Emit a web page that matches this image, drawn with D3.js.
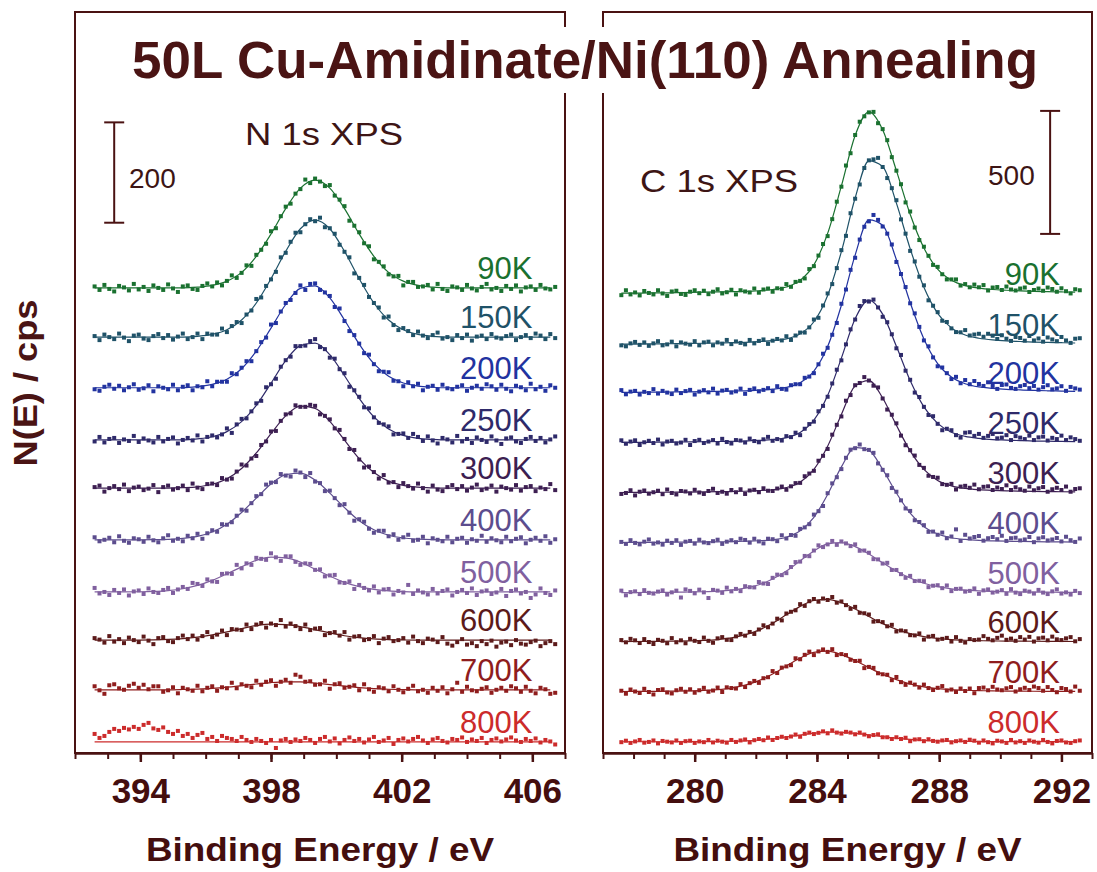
<!DOCTYPE html>
<html lang="en">
<head>
  <meta charset="UTF-8">
  <title>50L Cu-Amidinate/Ni(110) Annealing</title>
  <script src="https://d3js.org/d3.v7.min.js"></script>
  <style>
    body{
      margin:0;
      background:#ffffff;
      font-family:"Liberation Sans", Arial, Helvetica, sans-serif;
    }
  </style>
</head>
<body>
<div id="chart"></div>
<script>
// annealing temperatures and their colours
var temps = ["90K","150K","200K","250K","300K","400K","500K","600K","700K","800K"];
var colours = ["#1a7130","#1f5268","#2233a0","#2e2a6a","#3d1f52","#5c4d8e","#80609f","#5c1a1a","#8f1d1d","#cc2b2b"];

// ---- N 1s panel: counts above each trace's own baseline, 0.15 eV steps from 392.6 eV
var nStart = 392.6, nStep = 0.15, nFitStep = 0.45;
var nOffsets = [927, 829, 728, 624, 528, 425, 321, 225, 126, 22];

var n90 = [3,-4,6,-2,-7,4,1,-5,8,-3,2,-6,5,0,-4,7,-1,-8,3,5,
  -2,-4,4,9,3,11,5,14,25,20,30,45,44,66,76,88,113,119,143,162,
  168,188,197,216,209,218,212,203,205,184,176,163,134,124,111,89,83,57,52,43,
  27,23,24,5,12,12,2,3,6,-3,8,-2,-6,3,1,-4,6,-1,-5,2,
  8,-3,0,-6,4,-2,5,-7,1,3,-4,6,-1,-3,2];
var n150 = [2,-6,5,0,-4,7,-1,-8,3,5,-3,-6,2,6,-2,4,-5,1,7,-4,
  0,7,-4,7,5,5,17,10,22,30,28,45,53,76,79,102,115,130,159,168,
  190,208,209,225,235,231,238,219,217,206,184,170,159,127,118,104,80,68,59,39,
  41,24,14,18,12,4,11,3,-2,4,9,-3,0,-6,4,-2,5,-7,1,3,
  -4,6,-1,-3,2,5,-6,0,4,-2,7,3,-4,6,-2];
var n200 = [-3,-6,2,6,-2,4,-5,1,7,-4,-1,5,-7,3,0,-3,6,-5,2,5,
  -5,3,1,13,3,12,12,12,29,27,40,53,53,73,91,100,126,129,152,169,
  175,189,204,195,207,208,195,190,183,161,158,133,113,105,88,69,66,47,33,32,
  31,14,13,3,11,3,8,-5,2,4,-4,6,-1,-3,2,5,-6,0,4,-2,
  7,3,-4,6,-2,-7,4,1,-5,8,-3,2,-6,5,0];
var n250 = [-3,6,-5,2,4,-6,1,-2,8,-4,3,-1,-5,6,-3,2,5,-7,0,4,
  -1,9,-3,6,9,5,11,23,14,31,42,43,57,73,78,105,111,122,146,159,
  166,187,187,188,197,201,185,181,164,162,141,133,106,99,86,65,63,45,34,31,
  27,11,12,13,4,12,6,-2,7,-1,-7,4,1,-5,8,-3,2,-6,5,0,
  -4,7,-1,-8,3,5,-3,-6,2,6,-2,4,-5,1,7];
var n300 = [2,5,-7,0,4,-2,7,-6,1,3,-4,-1,6,-8,2,5,-3,0,5,-4,
  9,1,-2,8,9,6,20,17,19,33,47,45,59,64,86,93,113,114,134,147,
  149,165,162,162,166,164,147,144,137,119,116,98,78,76,57,41,43,32,19,26,
  11,12,2,10,4,-1,9,0,-7,5,-3,-6,2,6,-2,4,-5,1,7,-4,
  -1,5,-7,3,0,-3,6,-5,2,4,-6,1,-2,8,-4];
var n400 = [5,-3,0,4,-5,7,-2,-6,3,1,-4,6,-1,-5,3,9,-2,2,-3,8,
  3,12,2,13,19,16,31,30,35,48,60,58,73,87,91,110,114,115,131,128,
  126,138,134,125,133,116,113,97,98,83,69,71,54,38,41,36,22,14,18,18,
  7,11,0,5,10,-2,0,6,-7,3,0,-3,6,-5,2,4,-6,1,-2,8,
  -4,3,-1,-5,6,-3,2,5,-7,0,4,-2,7,-6,1];
var n500 = [8,-3,0,-6,4,-2,5,-7,1,3,-4,7,0,-2,4,8,-2,5,10,6,
  18,16,12,25,21,20,36,37,36,54,47,57,54,68,66,64,77,69,62,71,
  71,60,54,57,56,44,45,31,33,34,19,18,21,6,14,8,3,11,-1,5,
  6,-5,2,-1,14,-4,3,-1,-5,6,-3,2,5,-7,0,4,-2,7,-6,1,
  3,-4,-1,6,-8,2,5,-3,0,-12,-5,7,-2,-6,3];
var n600 = [4,1,-5,8,-3,2,-6,5,0,-4,7,-1,-8,4,6,-2,-4,4,9,2,
  9,1,8,16,6,11,19,10,22,21,20,31,22,31,34,25,33,30,40,27,
  33,28,22,31,20,23,24,10,14,16,9,16,1,7,8,0,2,8,-6,3,
  6,-2,0,4,-5,7,-2,-6,3,1,-4,6,-7,-11,-4,2,-9,-6,-12,-2,
  -8,-1,-13,-5,-3,-10,0,-7,-9,-4,-1,-12,-6,-2,-8];
var n700 = [7,-1,-8,9,11,3,0,8,12,4,10,1,7,7,-4,-1,5,-7,4,1,
  -2,8,-3,4,7,-2,5,3,14,3,11,8,5,18,10,16,19,8,16,20,
  14,30,26,16,17,10,11,18,2,11,13,4,6,9,-1,11,1,-4,5,3,
  -3,7,0,-5,2,8,-3,0,-6,4,-2,5,-7,1,14,-4,6,-1,-3,2,
  5,-6,0,4,-2,7,3,-4,6,-2,-7,4,1,-8,-6];
var n800 = [16,8,12,20,26,22,28,25,30,26,34,38,27,24,29,20,16,22,12,16,
  8,14,18,6,10,2,12,8,6,2,10,4,0,6,2,-2,4,-12,3,6,
  0,5,2,8,4,-2,6,10,1,7,-3,4,9,2,6,-1,5,10,0,3,
  8,-4,4,7,1,6,10,3,-2,5,8,2,-1,6,4,9,0,5,2,8,
  -2,4,7,1,5,9,3,0,6,2,7,-1,4,1,-5];

// fitted curves, 0.45 eV steps from 392.6 eV
var nFit90  = [0,0,0,0,0,0,0,1.5,5,13.5,31,63,107.5,158,199,215,199,158,107.5,63,31,13.5,5,1.5,0,0,0,0,0,0,0,0];
var nFit150 = [0,0,0,0,0,0,0,1.6,5.4,14.7,34,68,116.5,171,216,233,216,171,116.5,68,34,14.7,5.4,1.6,0,0,0,0,0,0,0,0];
var nFit200 = [0,0,0,0,0,0,0,2.3,6.8,17,38,73,119,166,198,203,179,135,87,48,23,9.4,3.3,1,0,0,0,0,0,0,0,0];
var nFit250 = [0,0,0,0,0,0,0,2.1,6.4,16.6,36.5,69,113,158,188,193,170,128,83,46,22,9,3.1,1,0,0,0,0,0,0,0,0];
var nFit300 = [0,0,0,0,0,0,0.8,2.6,7.6,18.5,39,70,108.5,144,163.5,159,133,95.5,58.6,31,14,5.4,1.8,0.5,0,0,0,0,0,0,0,0];
var nFit400 = [0,0,0,0,0.2,0.9,2.7,6.8,15.5,31,54.5,83,111,130,133,119,93,64,38,20,9,3.6,1.3,0.3,0,0,0,0,0,0,0,0];
var nFit500 = [0,0,0.1,0.4,1.1,2.8,6.4,13,23,36,50,63,69.5,68,59.5,45.5,31.5,19,10.5,5,2.1,0.8,0.2,0,0,0,0,0,0,0,0,0];
var nFit600 = [0,0,0,0.1,0.5,1.3,2.9,5.9,10.5,16.5,23,28.8,31.8,31,27,21,14.4,8.7,4.8,2.3,1,0.4,0,0,0,0,0,0,0,0,0,0];
var nFit700 = [0,0,0,0,0,0,0.6,1.5,2.9,5.2,8.3,11.5,14.4,15.9,15.6,13.5,10.4,7.2,4.4,2.4,1.1,0.4,0,0,0,0,0,0,0,0,0,0];
var nFit800 = [0,0,0,0,0,0,0,0,0,0,0,0,0,0,0,0,0,0,0,0,0,0,0,0,0,0,0,0,0,0,0,0];

// ---- C 1s panel: 0.15 eV steps from 277.6 eV
var cStart = 277.6, cStep = 0.15, cFitStep = 0.45;
var cOffsets = [1866, 1659, 1463, 1260, 1057, 854, 650, 451, 248, 45];

var c90 = [-5,15,-2,6,-6,12,4,-2,15,2,-8,10,13,0,-4,9,15,3,13,-1,
  9,19,2,7,17,-2,15,10,6,22,5,18,22,9,23,21,40,29,49,53,
  63,101,113,156,203,235,304,375,436,522,572,646,700,722,738,740,694,670,625,556,
  501,446,372,335,270,219,192,155,118,110,80,59,59,59,34,40,27,38,27,36,
  14,26,28,16,30,18,14,22,26,8,16,22,13,26,20,9,23,11,2,19,15];
var c150 = [-2,-6,6,12,0,10,-4,6,15,-2,2,13,-6,10,5,1,15,-2,10,13,
  -2,10,5,20,3,14,8,2,20,6,16,22,4,17,24,18,35,20,38,50,
  50,71,103,110,160,209,247,312,385,443,535,594,652,719,750,754,760,723,678,637,
  588,510,452,382,339,277,242,181,159,133,98,93,67,52,51,60,38,42,45,33,
  45,37,24,39,25,16,32,28,17,36,18,26,13,30,22,15,32,18,8,25,27];
var c200 = [12,-5,6,9,-6,5,0,16,-2,9,2,-4,14,0,8,13,-6,6,12,3,
  18,-2,10,13,2,7,18,-3,13,19,7,13,20,8,28,17,14,32,36,36,
  62,67,81,117,160,184,237,285,363,421,501,550,624,676,698,724,704,677,648,604,
  533,484,431,365,324,269,214,190,145,109,104,81,57,66,40,53,36,49,37,29,
  44,29,17,33,35,21,17,28,33,20,29,14,24,32,15,19,28,9,25,19,14];
var c250 = [11,-3,6,11,-8,3,9,0,14,-6,6,9,-2,2,13,-8,8,13,0,6,
  12,-2,17,4,-2,12,10,2,18,8,3,15,25,9,16,10,28,24,42,32,
  58,77,87,129,151,188,242,298,336,401,462,502,557,577,575,583,551,513,491,442,
  385,358,294,257,205,187,147,114,109,78,52,58,52,32,22,42,44,29,37,21,
  29,37,19,22,32,12,28,22,16,30,12,23,26,10,21,16,30,12,23,16,9];
var c300 = [-4,0,11,-10,5,10,-3,3,9,-5,14,0,-6,8,6,-2,13,2,-4,8,
  17,0,5,-3,12,3,15,-4,10,13,3,19,9,8,18,26,13,27,40,41,
  68,79,90,131,151,179,237,277,311,375,398,438,447,471,457,436,429,384,339,318,
  283,233,194,174,152,114,102,70,65,62,36,33,37,14,26,29,21,34,15,25,
  27,12,22,16,31,12,23,15,9,26,11,19,24,5,15,21,12,26,5,16,19];
var c400 = [4,-4,11,0,-6,5,14,-3,2,-7,9,0,11,-8,5,8,-3,13,2,-1,
  7,13,-4,5,11,3,17,12,1,17,6,-2,17,15,7,31,18,32,29,57,
  63,76,115,129,150,202,242,267,300,346,379,385,400,381,378,366,323,297,275,223,
  208,173,140,130,92,85,72,45,46,33,42,19,26,55,8,33,18,24,28,9,
  19,24,15,29,8,19,21,10,14,24,3,18,23,10,14,20,6,25,11,4,18];
var c500 = [10,-9,4,7,-4,12,1,-2,6,11,-6,3,10,-18,15,9,-1,14,3,-20,
  13,10,1,22,7,17,8,28,24,23,45,39,37,62,75,73,81,106,126,128,
  151,150,173,194,187,198,212,196,210,202,191,198,172,173,164,138,137,120,123,94,
  94,77,62,70,49,50,48,24,30,32,20,31,8,17,18,6,9,19,-3,11,
  15,2,6,12,-3,16,2,-4,10,6,-2,13,2,-4,7,15,-2,3,-6,9,0];
var c600 = [8,-1,13,7,-4,12,0,-8,9,5,-5,16,-1,7,-5,13,5,0,18,5,
  -3,15,20,9,8,23,33,26,41,33,51,68,60,75,95,88,116,123,129,154,
  147,166,175,164,177,171,183,160,165,150,135,143,119,117,112,83,85,81,64,70,
  43,47,44,28,27,35,10,22,25,10,13,17,2,20,5,-2,12,8,10,24,
  13,7,17,26,9,14,5,20,10,21,2,15,18,7,22,11,8,15,20,3,12];
var c700 = [5,-7,10,2,-4,13,0,-10,8,11,-2,-6,7,13,1,11,-3,7,17,1,
  6,18,0,19,16,14,32,20,36,45,37,56,60,85,77,99,104,109,137,133,
  151,164,150,165,173,163,174,150,154,150,131,126,127,97,102,98,76,72,70,48,
  61,40,29,38,30,18,30,16,8,17,24,6,10,0,14,4,14,-5,16,18,
  7,21,10,7,15,20,2,11,17,8,22,16,5,20,8,-1,16,12,2,22,5];
var c800 = [-1,5,-4,2,8,-3,0,6,-6,4,1,-2,6,-4,3,5,-4,2,-1,8,
  -2,5,1,-3,8,0,6,10,-2,7,12,7,18,8,16,21,16,22,30,21,
  33,38,32,37,43,35,47,38,34,41,38,31,38,30,23,28,31,19,19,12,
  19,12,17,3,10,11,3,11,4,1,6,8,-2,3,6,0,9,5,-3,6,
  -1,-6,5,2,-4,8,-2,3,-4,6,1,-3,8,0,-6,4,6,-2,-4,3,6];

var cFit90  = [3,3,4,4,5,6,7,8,9,10,13,18,28,55,118,246,439,644,740,667,501,324,187,101,55.5,34,23.7,18,15,12.5,10.4,9.2,8,7];
var cFit150 = [3,3.3,3.7,4.3,4.9,5.5,6.5,7.6,8.7,10,13,17,24,45,94,201,379,597,748,725,576,391,234,128,69,40,27,20,16,13.7,11.4,9.9,8.7,7.6];
var cFit200 = [2.8,3.1,3.5,4,4.6,5.2,6.1,7.2,8.2,9.3,12,16,23,42,89,189,357,561,704,682,542,368,220,120,65,38,25,19,15,12.9,10.7,9.3,8.2,7.2];
var cFit250 = [2.3,2.6,2.9,3.4,3.9,4.4,5.2,6.1,7,8.1,10.5,14,22,43,93,193,345,505,581,524,393,254,147,80,44,27,19,14,12,10,8.1,7.3,6.4,5.5];
var cFit300 = [1.9,2.2,2.5,2.8,3.2,3.7,4.4,5.1,5.8,6.9,9.3,13,22,44,96,190,319,435,457,386,275,171,96,51,29,18.5,13.4,10.6,8.8,7.4,6.3,5.6,4.9,4.2];
var cFit400 = [1.7,1.9,2.2,2.5,2.9,3.3,3.9,4.5,5.1,6.7,8.7,12.6,23,49,104,197,309,388,376,299,203,121,66,36,21,14,10.2,8.3,7.1,5.9,5.1,4.5,3.9,3.4];
var cFit500 = [2.2,2.4,2.6,3,3.6,4.4,5.5,7.7,12,20,34,57.5,90,131,171,200,205,189,158.5,123,89,61.5,40,26,17.2,11.8,8.7,6.8,5.4,4.8,4.1,3.7,3.3,2.9];
var cFit600 = [2,2.2,2.5,3.1,3.7,4.7,6.5,10,16.8,29,48.6,76.5,110.6,145,169,173.6,159.6,134,104,75,52,34,22,14.5,10,7.4,5.8,4.6,4,3.5,3.2,2.8,2.5,2.2];
var cFit700 = [1.9,2.1,2.4,2.9,3.5,4.5,6.2,9.7,16,27.6,46,73,105.5,138,161,165.7,152,128,99,72,50,32.6,21,14,9.5,7,5.5,4.3,3.8,3.3,3,2.7,2.3,2.1];
var cFit800 = [0.8,0.8,0.8,0.8,0.9,0.9,1.2,1.7,2.7,4.6,7.9,13,20,28,35.4,39.5,39,34.7,28.4,21.5,15.3,10.4,6.7,4.4,2.9,2,1.5,1.3,1.1,1,1,1,1,1];

// axis ticks and intensity scale bars
var nMajorTicks = [394, 398, 402, 406];
var cMajorTicks = [280, 284, 288, 292];
var nScaleBar = {e: 393.2, from: 1057, size: 200};
var cScaleBar = {e: 291.63, from: 2110, size: 500};

var maroon = "#4a1212";

var svg = d3.select("#chart").append("svg")
  .attr("width", 1097)
  .attr("height", 872);

function drawPanel(p){
  var x = d3.scaleLinear().domain(p.xDomain).range(p.xRange);
  var y = d3.scaleLinear().domain(p.yDomain).range([753, 12]);
  var g = svg.append("g");

  // frame
  g.append("rect")
    .attr("x", p.xRange[0]).attr("y", 12)
    .attr("width", p.xRange[1] - p.xRange[0]).attr("height", 741)
    .attr("fill", "none").attr("stroke", maroon).attr("stroke-width", 2);

  // minor ticks every 1 eV
  var minorAxis = d3.axisBottom(x)
    .tickValues(d3.range(p.xDomain[0], p.xDomain[1] + 1))
    .tickSize(6).tickSizeOuter(0).tickFormat("");
  g.append("g").attr("transform", "translate(0,753)").call(minorAxis)
    .call(function(a){
      a.select(".domain").attr("stroke", maroon).attr("stroke-width", 2.5);
      a.selectAll(".tick line").attr("stroke", maroon).attr("stroke-width", 2);
    });

  // major ticks with labels
  var majorAxis = d3.axisBottom(x)
    .tickValues(p.majorTicks)
    .tickSize(9).tickSizeOuter(0).tickPadding(16)
    .tickFormat(d3.format("d"));
  g.append("g").attr("transform", "translate(0,753)").call(majorAxis)
    .call(function(a){
      a.select(".domain").remove();
      a.selectAll(".tick line").attr("stroke", maroon).attr("stroke-width", 2.5);
      a.selectAll(".tick text")
        .attr("fill", "#440e0e")
        .attr("font-size", 35)
        .attr("font-weight", "bold")
        .attr("font-family", "'Liberation Sans', Arial, sans-serif");
    });

  // x axis title
  g.append("text")
    .attr("x", (p.xRange[0] + p.xRange[1]) / 2).attr("y", 861)
    .attr("text-anchor", "middle")
    .attr("font-size", 34).attr("font-weight", "bold")
    .attr("textLength", 348).attr("lengthAdjust", "spacingAndGlyphs")
    .attr("fill", "#440e0e")
    .text("Binding Energy / eV");

  // scale bar
  var sb = p.scaleBar;
  var sx = x(sb.e), y0 = y(sb.from), y1 = y(sb.from + sb.size);
  g.append("line").attr("x1", sx).attr("x2", sx).attr("y1", y0).attr("y2", y1)
    .attr("stroke", maroon).attr("stroke-width", 2);
  [y0, y1].forEach(function(yy){
    g.append("line").attr("x1", sx - 10).attr("x2", sx + 10).attr("y1", yy).attr("y2", yy)
      .attr("stroke", maroon).attr("stroke-width", 2);
  });
  g.append("text")
    .attr("x", p.scaleLabel.x).attr("y", p.scaleLabel.y)
    .attr("font-size", 28).attr("fill", "#3d1515")
    .text(sb.size);

  // core level name
  g.append("text")
    .attr("x", p.name.x).attr("y", p.name.y)
    .attr("font-size", 32).attr("fill", "#3d1515")
    .attr("textLength", 158).attr("lengthAdjust", "spacingAndGlyphs")
    .text(p.name.text);

  var line = d3.line()
    .x(function(d){ return x(d.e); })
    .y(function(d){ return y(d.v); })
    .curve(d3.curveMonotoneX);

  temps.forEach(function(t, i){
    var off = p.offsets[i];
    var pts = p.points[i].map(function(v, k){ return {e: p.start + k * p.step, v: v + off}; });
    var fit = p.fits[i].map(function(v, k){ return {e: p.start + k * p.fitStep, v: v + off}; });

    // temperature label
    g.append("text")
      .attr("x", x(p.labelE)).attr("y", y(off) - 9)
      .attr("text-anchor", "end")
      .attr("font-size", 31)
      .attr("fill", colours[i])
      .text(t);

    g.append("path").datum(fit)
      .attr("d", line)
      .attr("fill", "none")
      .attr("stroke", colours[i])
      .attr("stroke-width", 1.2);

    g.selectAll(null).data(pts).enter()
      .append("rect")
      .attr("x", function(d){ return x(d.e) - 2; })
      .attr("y", function(d){ return y(d.v) - 2; })
      .attr("width", 4).attr("height", 4)
      .attr("fill", colours[i]);
  });
}

drawPanel({
  xDomain: [392, 407], xRange: [75, 565], yDomain: [0, 1477],
  majorTicks: nMajorTicks,
  start: nStart, step: nStep, fitStep: nFitStep,
  offsets: nOffsets,
  points: [n90, n150, n200, n250, n300, n400, n500, n600, n700, n800],
  fits: [nFit90, nFit150, nFit200, nFit250, nFit300, nFit400, nFit500, nFit600, nFit700, nFit800],
  labelE: 406.0,
  scaleBar: nScaleBar, scaleLabel: {x: 129, y: 188},
  name: {text: "N 1s XPS", x: 245, y: 145}
});

drawPanel({
  xDomain: [277, 293], xRange: [603, 1092], yDomain: [0, 3012],
  majorTicks: cMajorTicks,
  start: cStart, step: cStep, fitStep: cFitStep,
  offsets: cOffsets,
  points: [c90, c150, c200, c250, c300, c400, c500, c600, c700, c800],
  fits: [cFit90, cFit150, cFit200, cFit250, cFit300, cFit400, cFit500, cFit600, cFit700, cFit800],
  labelE: 291.95,
  scaleBar: cScaleBar, scaleLabel: {x: 988, y: 185},
  name: {text: "C 1s XPS", x: 640, y: 192}
});

// main title sits on a white band that breaks the inner frame edges
svg.append("rect")
  .attr("x", 122).attr("y", 27).attr("width", 928).attr("height", 66)
  .attr("fill", "#ffffff");
svg.append("text")
  .attr("x", 585).attr("y", 78)
  .attr("text-anchor", "middle")
  .attr("font-size", 51).attr("font-weight", "bold")
  .attr("textLength", 906).attr("lengthAdjust", "spacingAndGlyphs")
  .attr("fill", "#4a1414")
  .text("50L Cu-Amidinate/Ni(110) Annealing");

// y axis title
svg.append("text")
  .attr("transform", "translate(37,383) rotate(-90)")
  .attr("text-anchor", "middle")
  .attr("font-size", 33).attr("font-weight", "bold")
  .attr("textLength", 167).attr("lengthAdjust", "spacingAndGlyphs")
  .attr("fill", "#4a1414")
  .text("N(E) / cps");
</script>
</body>
</html>
